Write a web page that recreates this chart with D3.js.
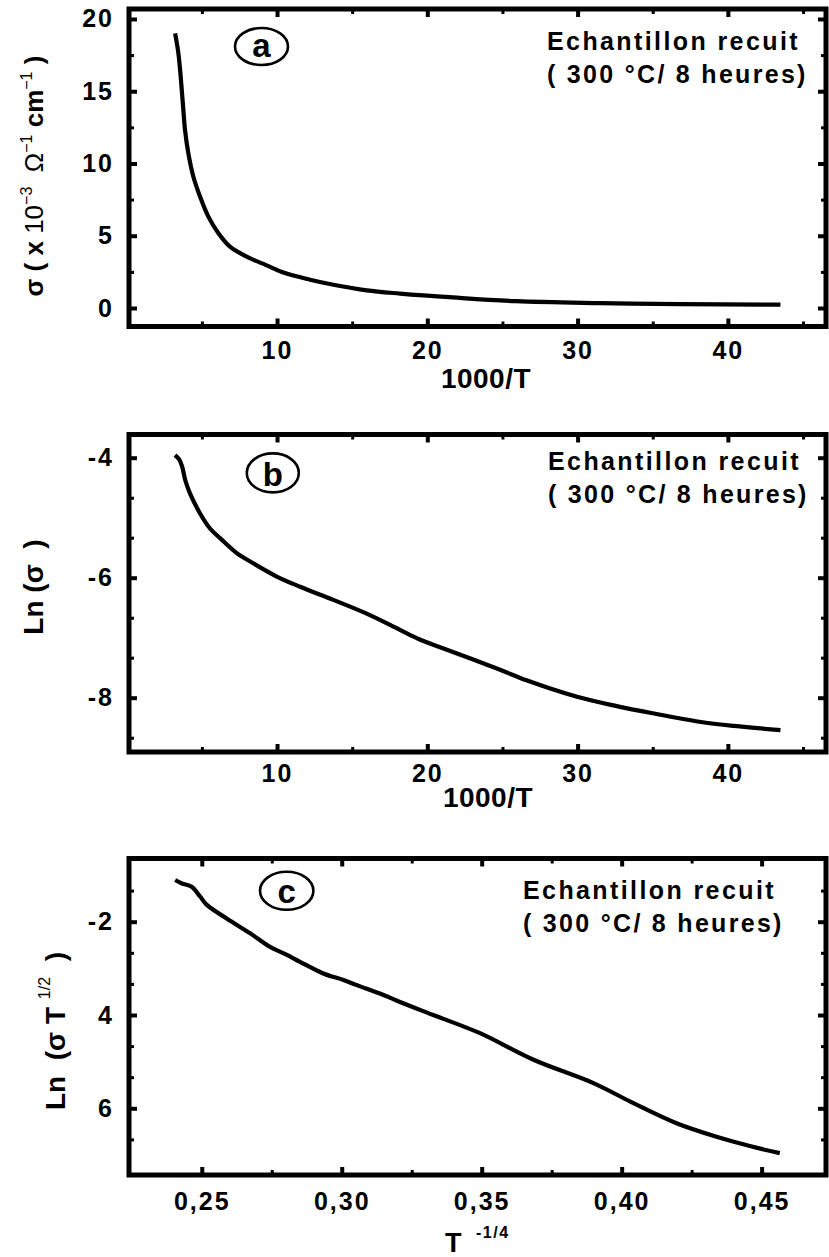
<!DOCTYPE html>
<html><head><meta charset="utf-8">
<script src="https://cdn.jsdelivr.net/npm/d3@7"></script>
<style>
html,body{margin:0;padding:0;background:#fff;}
svg{display:block;}
text{font-family:'Liberation Sans',Arial,Helvetica,sans-serif;font-weight:bold;fill:#000;}
</style></head><body>
<svg id="chart" width="829" height="1257"></svg>
<script>
// ---------- DATA ----------
// Panel (a): sigma (x10^-3 ohm^-1 cm^-1) vs 1000/T
const aX = [3.22, 3.44, 3.59, 3.73, 3.88, 4.10, 4.43, 4.88, 5.43, 6.10, 6.87, 7.98, 9.31, 10.42, 12.2, 13.75, 15.97, 18.18, 21.7, 25.9, 31.5, 36.8, 43.5];
const aY = [19.0, 17.6, 16.0, 14.2, 12.3, 10.7, 9.1, 7.7, 6.32, 5.17, 4.24, 3.55, 2.95, 2.45, 1.96, 1.61, 1.22, 1.0, 0.73, 0.47, 0.34, 0.27, 0.23];
// Panel (b): Ln(sigma) vs 1000/T
const bX = [3.21, 3.5, 3.7, 3.9, 4.2, 4.88, 5.54, 6.21, 7.32, 8.42, 9.98, 11.53, 13.75, 15.97, 18.18, 19.5, 21.3, 24.8, 26.6, 29.9, 32.6, 35.0, 38.1, 40.4, 43.5];
const bY = [-3.955, -4.03, -4.16, -4.38, -4.59, -4.93, -5.18, -5.34, -5.59, -5.76, -5.98, -6.15, -6.37, -6.6, -6.87, -7.03, -7.2, -7.53, -7.71, -7.98, -8.14, -8.26, -8.4, -8.47, -8.54];
// Panel (c): Ln(sigma T^1/2) vs T^-1/4
const cX = [0.2405, 0.2429, 0.2464, 0.2494, 0.2518, 0.2589, 0.2673, 0.2744, 0.2804, 0.2851, 0.2934, 0.3006, 0.3054, 0.3149, 0.3208, 0.3327, 0.3494, 0.3685, 0.3899, 0.4042, 0.4196, 0.4339, 0.4458, 0.4565];
const cY = [-1.106, -1.18, -1.25, -1.46, -1.64, -1.93, -2.25, -2.54, -2.71, -2.86, -3.11, -3.25, -3.36, -3.57, -3.72, -4.0, -4.39, -4.96, -5.46, -5.89, -6.32, -6.61, -6.81, -6.96];

// ticks
const tX1000Major = [10, 20, 30, 40];
const tX1000Labels = ["10", "20", "30", "40"];
const tX1000Minor = [5, 15, 25, 35, 45];
const tAYMajor = [0, 5, 10, 15, 20];
const tAYLabels = ["0", "5", "10", "15", "20"];
const tAYMinor = [2.5, 7.5, 12.5, 17.5];
const tBYMajor = [-4, -6, -8];
const tBYLabels = ["-4", "-6", "-8"];
const tBYMinor = [-4.667, -5.333, -6.667, -7.333, -8.667];
const tCXMajor = [0.25, 0.30, 0.35, 0.40, 0.45];
const tCXLabels = ["0,25", "0,30", "0,35", "0,40", "0,45"];
const tCXMinor = [0.275, 0.325, 0.375, 0.425];
const tCYMajor = [-2, -4, -6];
const tCYLabels = ["-2", "4", "6"];
const tCYMinor = [-1.333, -2.667, -3.333, -4.667, -5.333, -6.667];

const noteLine1 = "Echantillon recuit";
const noteLine2 = "( 300 °C/ 8 heures)";

// ---------- DRAW ----------
const svg = d3.select("#chart");

function styleAxis(g, w, labelSize, ls) {
  g.attr("font-size", null).attr("font-family", null);
  g.select(".domain").remove();
  g.selectAll(".tick line").attr("stroke", "#000").attr("stroke-width", w);
  g.selectAll(".tick text").attr("font-size", labelSize).style("letter-spacing", ls + "px").attr("fill", "#000");
}

function drawPanel(p) {
  const x = d3.scaleLinear().domain(p.xDomain).range([p.left, p.right]);
  const y = d3.scaleLinear().domain(p.yDomain).range([p.bottom, p.top]);
  const g = svg.append("g");

  const mk = (gen, scale, vals, labels, size, pad, tr, w, showLab) => {
    const a = gen(scale).tickValues(vals).tickSize(-size).tickPadding(pad)
      .tickFormat(showLab ? ((d, i) => labels[i]) : () => "");
    const gg = g.append("g").attr("transform", tr).call(a);
    styleAxis(gg, w, 25, 2);
    return gg;
  };
  mk(d3.axisBottom, x, p.xMajor, p.xLabels, 8, p.xPad, `translate(0,${p.bottom})`, 4, true);
  mk(d3.axisBottom, x, p.xMinor, null, 5, 0, `translate(0,${p.bottom})`, 3, false);
  mk(d3.axisLeft, y, p.yMajor, p.yLabels, 8, 15, `translate(${p.left},0)`, 4, true);
  mk(d3.axisLeft, y, p.yMinor, null, 5, 0, `translate(${p.left},0)`, 3, false);
  mk(d3.axisTop, x, p.xMajor, null, 8, 0, `translate(0,${p.top})`, 4, false);
  mk(d3.axisTop, x, p.xMinor, null, 5, 0, `translate(0,${p.top})`, 3, false);
  mk(d3.axisRight, y, p.yMajor, null, 8, 0, `translate(${p.right},0)`, 4, false);
  mk(d3.axisRight, y, p.yMinor, null, 5, 0, `translate(${p.right},0)`, 3, false);

  g.append("rect").attr("x", p.left).attr("y", p.top)
    .attr("width", p.right - p.left).attr("height", p.bottom - p.top)
    .attr("fill", "none").attr("stroke", "#000").attr("stroke-width", 5);

  const pts = p.xs.map((v, i) => [v, p.ys[i]]);
  g.append("path").datum(pts)
    .attr("d", d3.line().x(d => x(d[0])).y(d => y(d[1])).curve(d3.curveCatmullRom.alpha(0.5)))
    .attr("fill", "none").attr("stroke", "#000").attr("stroke-width", 4.2)
    .attr("stroke-linejoin", "round");

  g.append("ellipse").attr("cx", p.circ[0]).attr("cy", p.circ[1])
    .attr("rx", p.circ[2]).attr("ry", p.circ[3])
    .attr("fill", "none").attr("stroke", "#000").attr("stroke-width", 2.6);
  g.append("text").attr("x", p.circ[0]).attr("y", p.circ[4]).attr("text-anchor", "middle")
    .attr("font-size", 33).text(p.letter);

  g.append("text").attr("x", p.note[0]).attr("y", p.note[1]).attr("font-size", 25)
    .style("letter-spacing", "2.4px").style("white-space", "pre").text(noteLine1);
  g.append("text").attr("x", p.note[0]).attr("y", p.note[2]).attr("font-size", 25)
    .style("letter-spacing", "2.3px").style("white-space", "pre").text(noteLine2);
  return { x, y, g };
}

drawPanel({
  left: 129, right: 826, top: 9, bottom: 326.5,
  xDomain: [0.15, 46.53], yDomain: [-1.28, 20.69],
  xMajor: tX1000Major, xLabels: tX1000Labels, xMinor: tX1000Minor, xPad: 15,
  yMajor: tAYMajor, yLabels: tAYLabels, yMinor: tAYMinor,
  xs: aX, ys: aY,
  circ: [261.5, 46.5, 26.5, 18.5, 57], letter: "a",
  note: [547, 50, 83]
});
drawPanel({
  left: 129, right: 826, top: 434.5, bottom: 752,
  xDomain: [0.15, 46.53], yDomain: [-8.905, -3.613],
  xMajor: tX1000Major, xLabels: tX1000Labels, xMinor: tX1000Minor, xPad: 12,
  yMajor: tBYMajor, yLabels: tBYLabels, yMinor: tBYMinor,
  xs: bX, ys: bY,
  circ: [272.8, 472.9, 26, 19.5, 486], letter: "b",
  note: [548, 470, 503]
});
drawPanel({
  left: 129, right: 826, top: 858.5, bottom: 1175,
  xDomain: [0.224, 0.473], yDomain: [-7.43, -0.645],
  xMajor: tCXMajor, xLabels: tCXLabels, xMinor: tCXMinor, xPad: 17,
  yMajor: tCYMajor, yLabels: tCYLabels, yMinor: tCYMinor,
  xs: cX, ys: cY,
  circ: [286.7, 890.8, 26.7, 19, 903], letter: "c",
  note: [523, 899, 932]
});

svg.append("text").attr("x", 486).attr("y", 388).attr("text-anchor", "middle")
  .attr("font-size", 28).style("letter-spacing", "0.5px").text("1000/T");
svg.append("text").attr("x", 488).attr("y", 807).attr("text-anchor", "middle")
  .attr("font-size", 28).style("letter-spacing", "0.5px").text("1000/T");

const tt = svg.append("text").attr("x", 445).attr("y", 1252).attr("font-size", 27);
tt.append("tspan").text("T");
tt.append("tspan").attr("x", 476).attr("y", 1238).attr("font-size", 16).style("letter-spacing", "1.5px").text("-1/4");

const ya = svg.append("text").attr("transform", "translate(43,176) rotate(-90)")
  .attr("text-anchor", "middle").attr("font-size", 26).style("white-space", "pre");
ya.append("tspan").text("σ ( x ");
ya.append("tspan").attr("font-weight", "normal").text("10");
ya.append("tspan").attr("font-weight", "normal").attr("font-size", 16).attr("dy", -11).text("−3");
ya.append("tspan").attr("font-weight", "normal").attr("dy", 11).text("  Ω");
ya.append("tspan").attr("font-weight", "normal").attr("font-size", 16).attr("dy", -11).text("−1");
ya.append("tspan").attr("dy", 11).text(" cm");
ya.append("tspan").attr("font-weight", "normal").attr("font-size", 16).attr("dy", -11).text("−1");
ya.append("tspan").attr("dy", 11).text(" )");

svg.append("text").attr("transform", "translate(43,587) rotate(-90)")
  .attr("text-anchor", "middle").attr("font-size", 28).style("white-space", "pre")
  .text("Ln (σ  )");

const yc = svg.append("text").attr("transform", "translate(65,1031) rotate(-90)")
  .attr("text-anchor", "middle").attr("font-size", 28).style("white-space", "pre");
yc.append("tspan").text("Ln  (σ T ");
yc.append("tspan").attr("font-size", 16).attr("font-weight", "normal").attr("dy", -15).text("1/2");
yc.append("tspan").attr("dy", 15).text("  )");
</script>
</body></html>
